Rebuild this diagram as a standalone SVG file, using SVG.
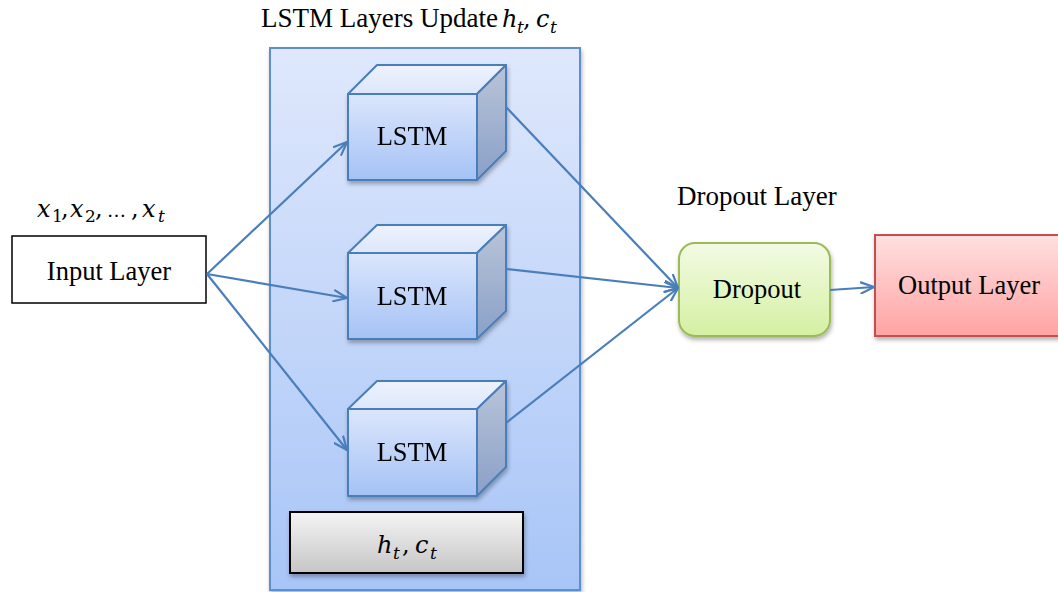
<svg xmlns="http://www.w3.org/2000/svg" width="1058" height="592" viewBox="0 0 1058 592">
<style>
.t{font-family:"Liberation Serif","Times New Roman",serif;font-size:26.5px;fill:#000}
.tt{font-size:27px}
.m{font-family:"DejaVu Serif","Liberation Serif",serif;font-style:italic;font-size:24px;fill:#000}
.s{font-size:17px}
.u{font-style:normal}
.e{font-size:19px}
.edge{stroke:#4a7ebb;stroke-width:2.2;fill:none}
.cube{stroke:#4a7ebb;stroke-width:2;stroke-linejoin:round}
</style>
<defs>
<linearGradient id="gCont" x1="0" y1="0" x2="0" y2="1"><stop offset="0" stop-color="#dfe8fc"/><stop offset="1" stop-color="#a8c5f7"/></linearGradient>
<linearGradient id="gFront" x1="0" y1="0" x2="0" y2="1"><stop offset="0" stop-color="#dbe6fc"/><stop offset="1" stop-color="#a5c2f5"/></linearGradient>
<linearGradient id="gTop" x1="0" y1="0" x2="0" y2="1"><stop offset="0" stop-color="#edf2fd"/><stop offset="1" stop-color="#dde7fb"/></linearGradient>
<linearGradient id="gSide" x1="0" y1="0" x2="0" y2="1"><stop offset="0" stop-color="#b9c4d8"/><stop offset="1" stop-color="#8aa0c8"/></linearGradient>
<linearGradient id="gGray" x1="0" y1="0" x2="0" y2="1"><stop offset="0" stop-color="#f4f4f4"/><stop offset="1" stop-color="#c6c6c6"/></linearGradient>
<linearGradient id="gGreen" x1="0" y1="0" x2="0" y2="1"><stop offset="0" stop-color="#f3fbe4"/><stop offset="1" stop-color="#d4f0a2"/></linearGradient>
<linearGradient id="gRed" x1="0" y1="0" x2="0" y2="1"><stop offset="0" stop-color="#ffe0e0"/><stop offset="1" stop-color="#ffa3a3"/></linearGradient>
<filter id="sh" x="-10%" y="-10%" width="130%" height="130%"><feDropShadow dx="1" dy="3" stdDeviation="2" flood-color="#000" flood-opacity="0.3"/></filter>
<marker id="arr" viewBox="0 0 15 13" refX="14" refY="6.5" markerWidth="15" markerHeight="13" markerUnits="userSpaceOnUse" orient="auto"><path d="M1,1 L14,6.5 L1,12" fill="none" stroke="#4a7ebb" stroke-width="2.2" stroke-linecap="round" stroke-linejoin="round"/></marker>
</defs>
<rect width="1058" height="592" fill="#fff"/>

<g id="title">
<text class="t tt" x="261" y="27">LSTM Layers Update</text>
<text class="m"><tspan x="502" y="27">h</tspan><tspan class="s" x="517" y="33">t</tspan><tspan class="u" x="523" y="27">,</tspan><tspan x="536" y="27">c</tspan><tspan class="s" x="550" y="33">t</tspan></text>
</g>

<g id="lstm-container">
<rect x="270" y="48" width="310" height="542" fill="url(#gCont)" stroke="#5b8ed0" stroke-width="2" filter="url(#sh)"/>
</g>

<g id="input-label">
<text class="m"><tspan x="37" y="217">x</tspan><tspan class="s u" x="52" y="222">1</tspan><tspan class="u" x="61" y="217">,</tspan><tspan x="70" y="217">x</tspan><tspan class="s u" x="85" y="222">2</tspan><tspan class="u" x="95" y="217">,</tspan><tspan class="u e" x="107" y="217">…</tspan><tspan class="u" x="131" y="217">,</tspan><tspan x="142" y="217">x</tspan><tspan class="s" x="158" y="222">t</tspan></text>
</g>

<g id="input-layer">
<rect x="12" y="236" width="194" height="67" fill="#fff" stroke="#000" stroke-width="1.5"/>
<text class="t" x="109" y="280" text-anchor="middle">Input Layer</text>
</g>

<g id="lstm1" filter="url(#sh)">
<polygon class="cube" points="348,94 377,65 506,65 477,94" fill="url(#gTop)"/>
<polygon class="cube" points="477,94 506,65 506,151 477,180" fill="url(#gSide)"/>
<rect class="cube" x="348" y="94" width="129" height="86" fill="url(#gFront)"/>
<text class="t" x="412" y="145" text-anchor="middle">LSTM</text>
</g>

<g id="lstm2" filter="url(#sh)">
<polygon class="cube" points="348,253 377,225 506,225 477,253" fill="url(#gTop)"/>
<polygon class="cube" points="477,253 506,225 506,311 477,339" fill="url(#gSide)"/>
<rect class="cube" x="348" y="253" width="129" height="86" fill="url(#gFront)"/>
<text class="t" x="412" y="305" text-anchor="middle">LSTM</text>
</g>

<g id="lstm3" filter="url(#sh)">
<polygon class="cube" points="348,409 377,381 506,381 477,409" fill="url(#gTop)"/>
<polygon class="cube" points="477,409 506,381 506,467 477,496" fill="url(#gSide)"/>
<rect class="cube" x="348" y="409" width="129" height="87" fill="url(#gFront)"/>
<text class="t" x="412" y="461" text-anchor="middle">LSTM</text>
</g>

<g id="state">
<rect x="290" y="512" width="233" height="61" fill="url(#gGray)" stroke="#000" stroke-width="2" filter="url(#sh)"/>
<text class="m"><tspan x="377" y="553">h</tspan><tspan class="s" x="393" y="559">t</tspan><tspan class="u" x="402" y="553">,</tspan><tspan x="415" y="553">c</tspan><tspan class="s" x="430" y="559">t</tspan></text>
</g>

<g id="dropout-label">
<text class="t tt" x="677" y="205">Dropout Layer</text>
</g>

<g id="dropout">
<rect x="679" y="243" width="151" height="93" rx="16" ry="16" fill="url(#gGreen)" stroke="#9bbb59" stroke-width="2" filter="url(#sh)"/>
<text class="t" x="757" y="298" text-anchor="middle">Dropout</text>
</g>

<g id="output">
<rect x="875" y="235" width="190" height="101" fill="url(#gRed)" stroke="#c0504d" stroke-width="2" filter="url(#sh)"/>
<text class="t" x="898" y="294">Output Layer</text>
</g>

<g id="connectors">
<line class="edge" x1="207" y1="274" x2="347" y2="142" marker-end="url(#arr)"/>
<line class="edge" x1="207" y1="274" x2="347" y2="298" marker-end="url(#arr)"/>
<line class="edge" x1="207" y1="274" x2="347" y2="450" marker-end="url(#arr)"/>
<line class="edge" x1="506" y1="107" x2="678" y2="288" marker-end="url(#arr)"/>
<line class="edge" x1="506" y1="269" x2="678" y2="288" marker-end="url(#arr)"/>
<line class="edge" x1="506" y1="423" x2="678" y2="288" marker-end="url(#arr)"/>
<line class="edge" x1="830" y1="290" x2="874" y2="287" marker-end="url(#arr)"/>
</g>
</svg>
